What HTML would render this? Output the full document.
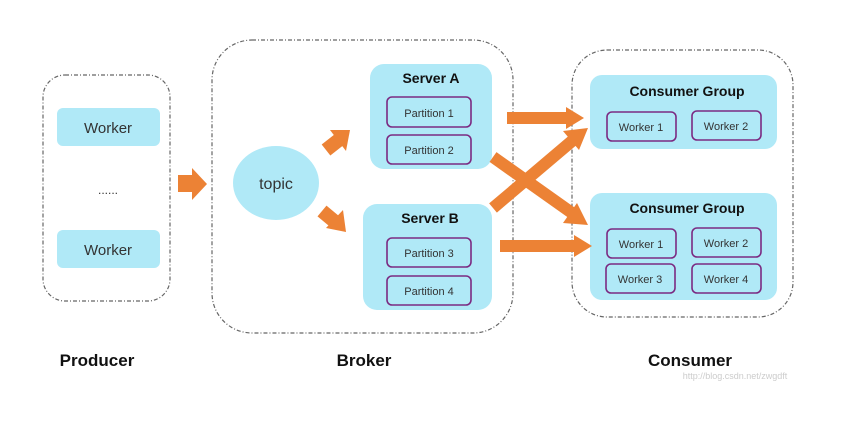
<!DOCTYPE html>
<html><head><style>
body{margin:0;background:#fff;}
svg text{font-family:"Liberation Sans",sans-serif;}
</style></head><body>
<svg width="861" height="416" viewBox="0 0 861 416" xmlns="http://www.w3.org/2000/svg">
<g fill="none" stroke="#666" stroke-width="1.2" stroke-dasharray="4,2,1,2">
<rect x="43" y="75" width="127" height="226" rx="22"/>
<rect x="212" y="40" width="301" height="293" rx="40"/>
<rect x="572" y="50" width="221" height="267" rx="35"/>
</g>
<g fill="#b0e9f7">
<rect x="57" y="108" width="103" height="38" rx="6"/>
<rect x="57" y="230" width="103" height="38" rx="6"/>
<ellipse cx="276" cy="183" rx="43" ry="37"/>
<rect x="370" y="64" width="122" height="105" rx="14"/>
<rect x="363" y="204" width="129" height="106" rx="14"/>
<rect x="590" y="75" width="187" height="74" rx="12"/>
<rect x="590" y="193" width="187" height="107" rx="12"/>
</g>
<g fill="none" stroke="#7b2a82" stroke-width="1.6">
<rect x="387" y="97" width="84" height="30" rx="5"/>
<rect x="387" y="135" width="84" height="29" rx="5"/>
<rect x="387" y="238" width="84" height="29" rx="5"/>
<rect x="387" y="276" width="84" height="29" rx="5"/>
<rect x="607" y="112" width="69" height="29" rx="5"/>
<rect x="692" y="111" width="69" height="29" rx="5"/>
<rect x="607" y="229" width="69" height="29" rx="5"/>
<rect x="692" y="228" width="69" height="29" rx="5"/>
<rect x="606" y="264" width="69" height="29" rx="5"/>
<rect x="692" y="264" width="69" height="29" rx="5"/>
</g>
<g fill="#ec8235" stroke="#ec8235">
<polygon points="178,175 192,175 192,168 207,184 192,200 192,192 178,192" stroke="none"/>
<line x1="326" y1="150" x2="340" y2="139" stroke-width="14"/>
<polygon points="350,130 330,130 346,151" stroke="none"/>
<line x1="322" y1="211" x2="334" y2="221" stroke-width="14"/>
<polygon points="346,232 343,210 326,228" stroke="none"/>
<line x1="507" y1="118" x2="568" y2="118" stroke-width="12"/>
<polygon points="584,118 566,107 566,129" stroke="none"/>
<line x1="500" y1="246" x2="574" y2="246" stroke-width="12"/>
<polygon points="592,246 574,235 574,257" stroke="none"/>
<line x1="493" y1="157" x2="572" y2="213" stroke-width="12"/>
<polygon points="588,225 563,223 577,203" stroke="none"/>
<line x1="493" y1="208" x2="572" y2="141" stroke-width="12"/>
<polygon points="588,128 563,131 579,150" stroke="none"/>
</g>
<g fill="#333" text-anchor="middle">
<text x="108" y="133" font-size="15">Worker</text>
<text x="108" y="255" font-size="15">Worker</text>
<text x="108" y="194" font-size="12">......</text>
<text x="276" y="189" font-size="16">topic</text>
<text x="429" y="117" font-size="11">Partition 1</text>
<text x="429" y="154" font-size="11">Partition 2</text>
<text x="429" y="257" font-size="11">Partition 3</text>
<text x="429" y="295" font-size="11">Partition 4</text>
<text x="641" y="131" font-size="11">Worker 1</text>
<text x="726" y="130" font-size="11">Worker 2</text>
<text x="641" y="248" font-size="11">Worker 1</text>
<text x="726" y="247" font-size="11">Worker 2</text>
<text x="640" y="283" font-size="11">Worker 3</text>
<text x="726" y="283" font-size="11">Worker 4</text>
</g>
<g fill="#111" font-weight="bold" text-anchor="middle">
<text x="431" y="83" font-size="14">Server A</text>
<text x="430" y="223" font-size="14">Server B</text>
<text x="687" y="96" font-size="14">Consumer Group</text>
<text x="687" y="213" font-size="14">Consumer Group</text>
<text x="97" y="366" font-size="17">Producer</text>
<text x="364" y="366" font-size="17">Broker</text>
<text x="690" y="366" font-size="17">Consumer</text>
</g>
<text x="735" y="379" font-size="9" fill="#ccc" text-anchor="middle">http://blog.csdn.net/zwgdft</text>
</svg>
</body></html>
